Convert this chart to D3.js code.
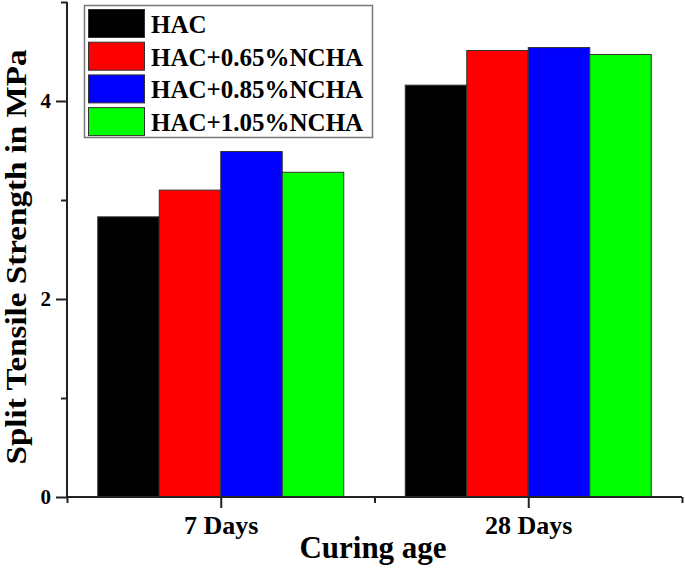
<!DOCTYPE html>
<html>
<head>
<meta charset="utf-8">
<script src="https://cdn.jsdelivr.net/npm/d3@7"></script>
<style>
  html, body { margin: 0; padding: 0; background: #fff; }
  svg { display: block; }
</style>
</head>
<body>
<svg id="chart" width="685" height="568"></svg>
<script>
// ---- data ----
const categories = ["7 Days", "28 Days"];
const seriesNames = ["HAC", "HAC+0.65%NCHA", "HAC+0.85%NCHA", "HAC+1.05%NCHA"];
const seriesColors = ["#000000", "#ff0000", "#0000ff", "#00ff00"];
const hac      = [2.83, 4.16];
const hac065   = [3.10, 4.51];
const hac085   = [3.49, 4.54];
const hac105   = [3.28, 4.47];
const seriesValues = [hac, hac065, hac085, hac105];
const yMajorTicks = [0, 2, 4];
const yMinorTicks = [1, 3, 5];
const xMajorTicks = [1, 2];
const xMinorTicks = [0.5, 1.5, 2.5];
const yTitle = "Split Tensile Strength in MPa";
const xTitle = "Curing age";

const FONT = '"Liberation Serif", serif';

// ---- layout ----
const svg = d3.select("#chart").style("font-family", FONT);
const x = d3.scaleLinear().domain([0.5, 2.5]).range([67, 682]);
const y = d3.scaleLinear().domain([0, 5]).range([497, 2]);
const barW = 0.2;

function styleText(sel, size) {
  sel.style("font-family", FONT).style("font-weight", "bold").style("font-size", size).attr("fill", "#000");
}

// bars
const bars = [];
seriesValues.forEach((vals, si) => {
  vals.forEach((v, ci) => bars.push({ si, ci, v }));
});
svg.append("g").selectAll("rect").data(bars).join("rect")
  .attr("x", d => x(d.ci + 1 + (d.si - 2) * barW))
  .attr("width", x(barW) - x(0))
  .attr("y", d => y(d.v))
  .attr("height", d => y(0) - y(d.v))
  .attr("fill", d => seriesColors[d.si])
  .attr("stroke", "#333")
  .attr("stroke-width", 1);

// y axis
const gy = svg.append("g").attr("transform", `translate(${x(0.5)},0)`)
  .call(d3.axisLeft(y).tickValues(yMajorTicks).tickSize(11).tickPadding(5).tickFormat(d3.format("d")));
gy.select(".domain").remove();
styleText(gy.selectAll("text"), "21px");
const gy2 = svg.append("g").attr("transform", `translate(${x(0.5)},0)`)
  .call(d3.axisLeft(y).tickValues(yMinorTicks).tickSize(6).tickFormat(""));
gy2.select(".domain").remove();

// x axis
const gx = svg.append("g").attr("transform", `translate(0,${y(0)})`)
  .call(d3.axisBottom(x).tickValues(xMajorTicks).tickSize(11).tickPadding(8)
    .tickFormat((d, i) => categories[i]));
gx.select(".domain").remove();
styleText(gx.selectAll("text"), "26px");
const gx2 = svg.append("g").attr("transform", `translate(0,${y(0)})`)
  .call(d3.axisBottom(x).tickValues(xMinorTicks).tickSize(6).tickFormat(""));
gx2.select(".domain").remove();

svg.selectAll(".tick line").attr("stroke", "#222").attr("stroke-width", 2);

// axis lines
svg.append("line").attr("x1", x(0.5)).attr("x2", x(0.5)).attr("y1", y(5)).attr("y2", y(0) + 1)
  .attr("stroke", "#222").attr("stroke-width", 2);
svg.append("line").attr("x1", x(0.5) - 1).attr("x2", x(2.5)).attr("y1", y(0)).attr("y2", y(0))
  .attr("stroke", "#222").attr("stroke-width", 2);

// titles
styleText(svg.append("text").attr("x", 373).attr("y", 558)
  .attr("text-anchor", "middle").text(xTitle), "31px");
styleText(svg.append("text").attr("transform", `translate(26,257) rotate(-90)`)
  .attr("text-anchor", "middle")
  .attr("textLength", 415).attr("lengthAdjust", "spacingAndGlyphs")
  .text(yTitle), "29px");

// legend
const lg = svg.append("g");
lg.append("rect").attr("x", 84.5).attr("y", 5.5).attr("width", 288).attr("height", 132)
  .attr("fill", "#fff").attr("stroke", "#777").attr("stroke-width", 1.5);
const rows = lg.selectAll("g.row").data(seriesNames).join("g").attr("class", "row")
  .attr("transform", (d, i) => `translate(0,${9 + i * 32.7})`);
rows.append("rect").attr("x", 88.5).attr("y", 0.5).attr("width", 56).attr("height", 28)
  .attr("fill", (d, i) => seriesColors[i]).attr("stroke", "#333").attr("stroke-width", 1);
styleText(rows.append("text").attr("x", 151).attr("y", 24).text(d => d), "25px");
</script>
</body>
</html>
